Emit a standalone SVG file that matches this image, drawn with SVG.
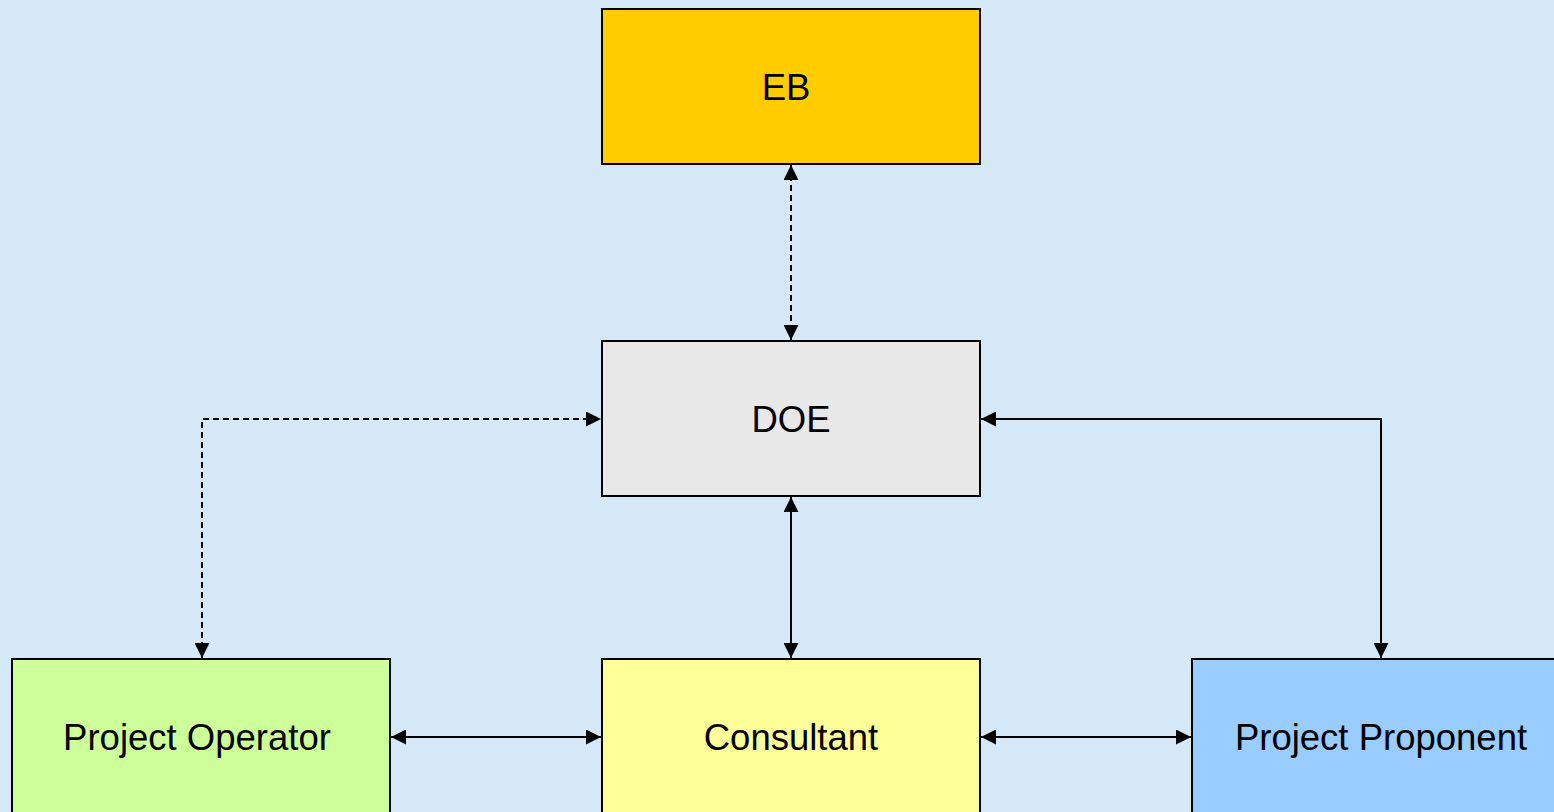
<svg xmlns="http://www.w3.org/2000/svg" width="1554" height="812" viewBox="0 0 1554 812">
<style>
.box{stroke:#000;stroke-width:2}
.lbl{font-family:"Liberation Sans",Arial,sans-serif;font-size:36.5px;fill:#000;text-anchor:middle;dominant-baseline:central}
.c{fill:none;stroke:#000;stroke-width:2}
.d{stroke-dasharray:6 4}
</style>
<defs>
<marker id="ah" viewBox="0 0 15 15" markerWidth="15" markerHeight="15" refX="15" refY="7.5" orient="auto-start-reverse" markerUnits="userSpaceOnUse">
<path d="M0,0 L15,7.5 L0,15 Z" fill="#000"/>
</marker>
</defs>
<rect width="1554" height="812" fill="#D5E8F7"/>
<g id="connectors">
<path class="c d" d="M791,165 L791,340" marker-start="url(#ah)" marker-end="url(#ah)"/>
<path class="c d" d="M202,658 L202,419 L601,419" marker-start="url(#ah)" marker-end="url(#ah)"/>
<path class="c" d="M981,419 L1381,419 L1381,658" marker-start="url(#ah)" marker-end="url(#ah)"/>
<path class="c" d="M791,497 L791,658" marker-start="url(#ah)" marker-end="url(#ah)"/>
<path class="c" d="M391,737 L601,737" marker-start="url(#ah)" marker-end="url(#ah)"/>
<path class="c" d="M981,737 L1191,737" marker-start="url(#ah)" marker-end="url(#ah)"/>
</g>
<g id="eb"><rect class="box" x="602" y="9" width="378" height="155" fill="#FFCC00"/><text class="lbl" x="786" y="87">EB</text></g>
<g id="doe"><rect class="box" x="602" y="341" width="378" height="155" fill="#E8E8E8"/><text class="lbl" x="791" y="419">DOE</text></g>
<g id="operator"><rect class="box" x="12" y="659" width="378" height="160" fill="#CCFF99"/><text class="lbl" x="197" y="737">Project Operator</text></g>
<g id="consultant"><rect class="box" x="602" y="659" width="378" height="160" fill="#FFFF99"/><text class="lbl" x="791" y="737">Consultant</text></g>
<g id="proponent"><rect class="box" x="1192" y="659" width="378" height="160" fill="#99CCFF"/><text class="lbl" x="1381" y="737">Project Proponent</text></g>
</svg>
